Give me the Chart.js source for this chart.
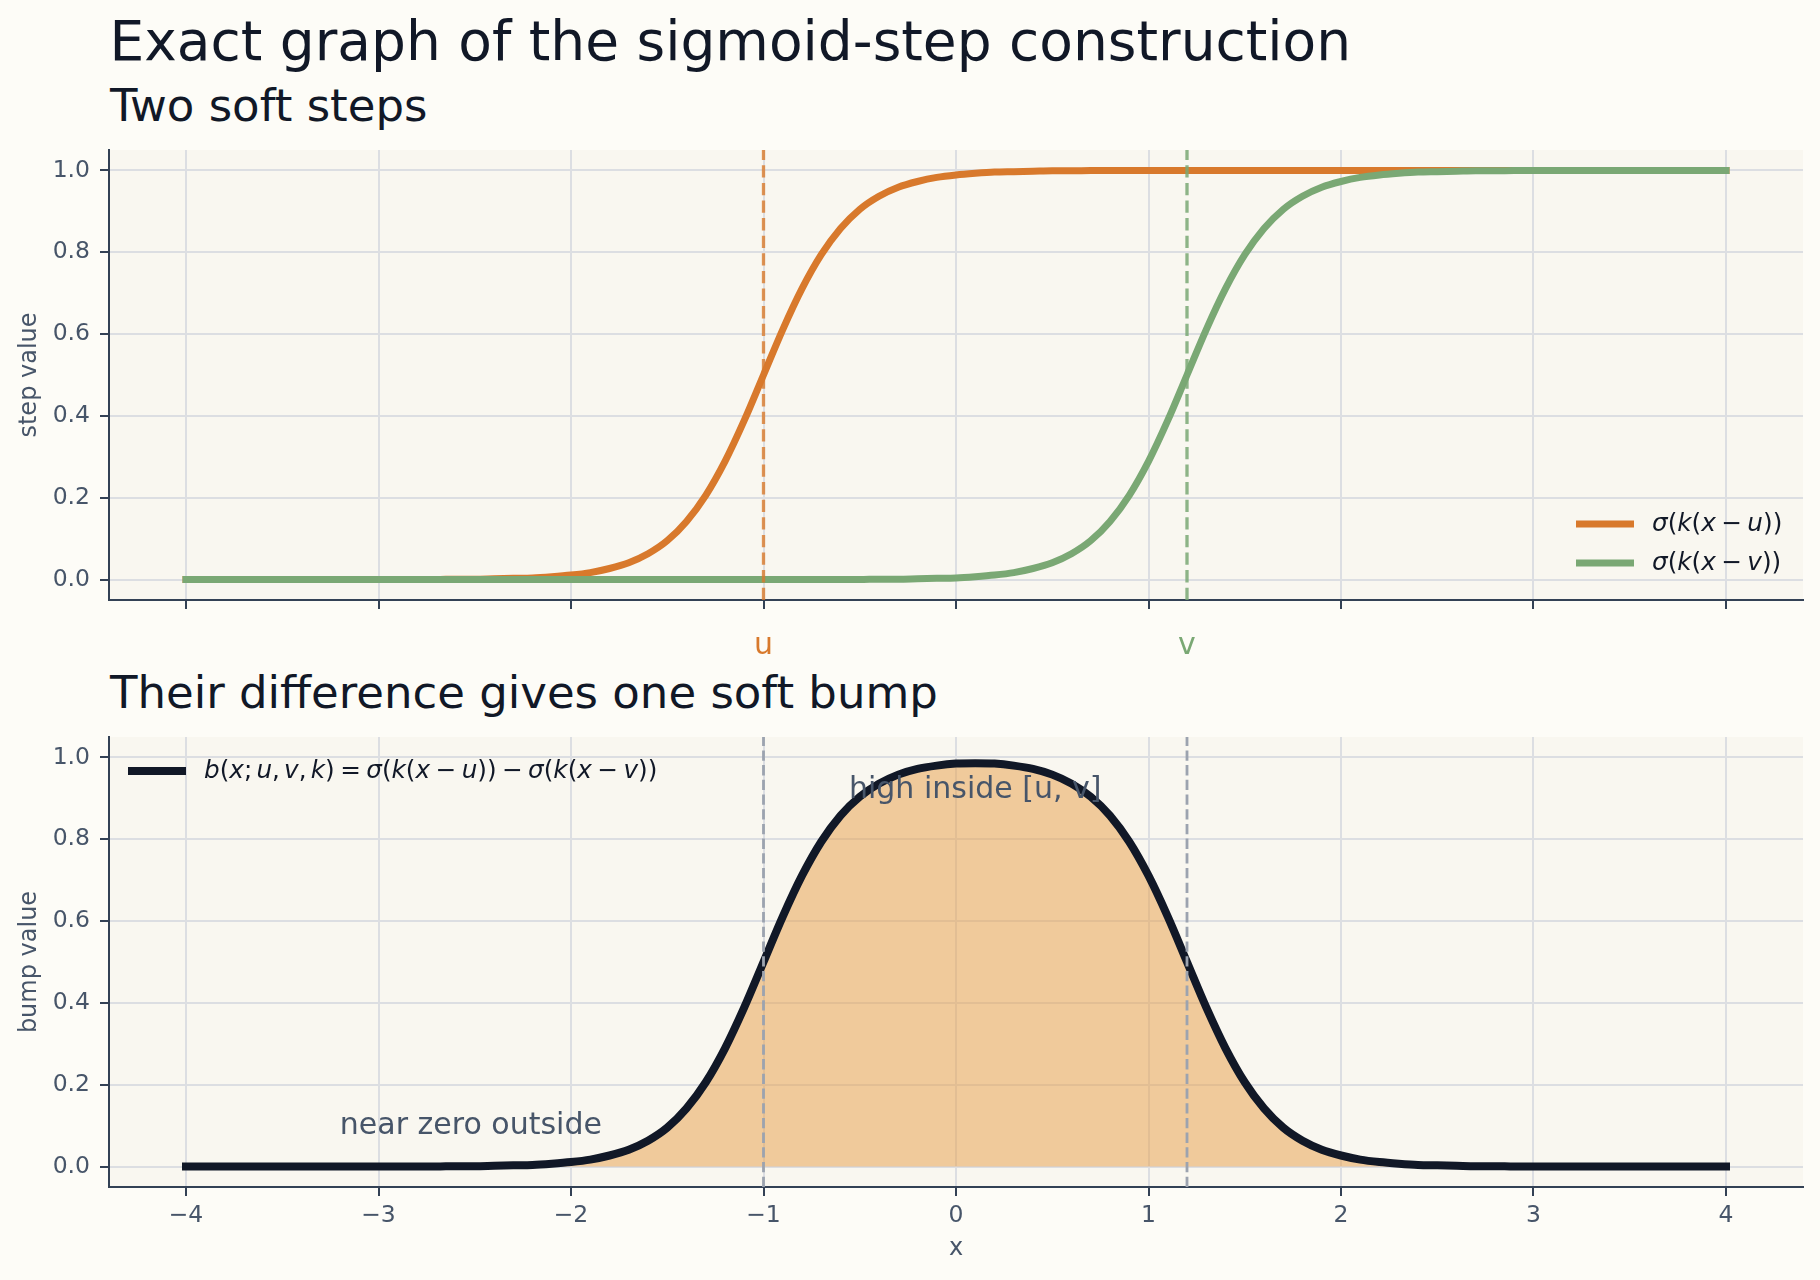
<!DOCTYPE html>
<html>
<head>
<meta charset="utf-8">
<script src="https://cdn.jsdelivr.net/npm/chart.js@4.4.1/dist/chart.umd.min.js"></script>
<style>
  html, body { margin: 0; padding: 0; background: #fdfcf7; }
  body { width: 1820px; height: 1280px; position: relative; overflow: hidden; font-family: "DejaVu Sans", sans-serif; }
  .ttl { position: absolute; margin: 0; color: #111827; line-height: 1; white-space: nowrap; font-weight: normal; }
  #title { left: 109.5px; top: 14px; font-size: 55px; }
  #sub1 { left: 110px; top: 82.5px; font-size: 45px; }
  #sub2 { left: 110px; top: 670px; font-size: 45px; }
  canvas { position: absolute; left: 0; }
  #topChart { top: 140px; }
  #botChart { top: 720px; }
</style>
</head>
<body>
<h1 class="ttl" id="title">Exact graph of the sigmoid-step construction</h1>
<h2 class="ttl" id="sub1">Two soft steps</h2>
<h2 class="ttl" id="sub2">Their difference gives one soft bump</h2>
<canvas id="topChart" width="1820" height="540"></canvas>
<canvas id="botChart" width="1820" height="560"></canvas>

<script>
// x samples and the curves
const xValues = [
  -4.0, -3.9, -3.8, -3.7, -3.6, -3.5, -3.4, -3.3, -3.2, -3.1,
  -3.0, -2.9, -2.8, -2.7, -2.6, -2.5, -2.4, -2.3, -2.2, -2.1,
  -2.0, -1.9, -1.8, -1.7, -1.6, -1.5, -1.4, -1.3, -1.2, -1.1,
  -1.0, -0.9, -0.8, -0.7, -0.6, -0.5, -0.4, -0.3, -0.2, -0.1,
  0.0, 0.1, 0.2, 0.3, 0.4, 0.5, 0.6, 0.7, 0.8, 0.9,
  1.0, 1.1, 1.2, 1.3, 1.4, 1.5, 1.6, 1.7, 1.8, 1.9,
  2.0, 2.1, 2.2, 2.3, 2.4, 2.5, 2.6, 2.7, 2.8, 2.9,
  3.0, 3.1, 3.2, 3.3, 3.4, 3.5, 3.6, 3.7, 3.8, 3.9, 4.0];

const stepU = [
  0, 0, 0, 0, 0, 0, 0, 0, 0, 0,
  0, 0, 0, 0, 0.001, 0.001, 0.002, 0.003, 0.004, 0.007,
  0.011, 0.017, 0.027, 0.041, 0.063, 0.095, 0.142, 0.206, 0.289, 0.389,
  0.500, 0.611, 0.711, 0.794, 0.858, 0.905, 0.937, 0.959, 0.973, 0.983,
  0.989, 0.993, 0.996, 0.997, 0.998, 0.999, 0.999, 1, 1, 1,
  1, 1, 1, 1, 1, 1, 1, 1, 1, 1,
  1, 1, 1, 1, 1, 1, 1, 1, 1, 1,
  1, 1, 1, 1, 1, 1, 1, 1, 1, 1, 1];

const stepV = [
  0, 0, 0, 0, 0, 0, 0, 0, 0, 0,
  0, 0, 0, 0, 0, 0, 0, 0, 0, 0,
  0, 0, 0, 0, 0, 0, 0, 0, 0, 0,
  0, 0, 0, 0, 0, 0, 0.001, 0.001, 0.002, 0.003,
  0.004, 0.007, 0.011, 0.017, 0.027, 0.041, 0.063, 0.095, 0.142, 0.206,
  0.289, 0.389, 0.500, 0.611, 0.711, 0.794, 0.858, 0.905, 0.937, 0.959,
  0.973, 0.983, 0.989, 0.993, 0.996, 0.997, 0.998, 0.999, 0.999, 1,
  1, 1, 1, 1, 1, 1, 1, 1, 1, 1, 1];

const bump = [
  0, 0, 0, 0, 0, 0, 0, 0, 0, 0,
  0, 0, 0, 0, 0.001, 0.001, 0.002, 0.003, 0.004, 0.007,
  0.011, 0.017, 0.027, 0.041, 0.063, 0.095, 0.142, 0.206, 0.289, 0.389,
  0.500, 0.611, 0.711, 0.794, 0.858, 0.904, 0.936, 0.958, 0.972, 0.980,
  0.985, 0.986, 0.985, 0.980, 0.972, 0.958, 0.936, 0.904, 0.858, 0.794,
  0.711, 0.611, 0.500, 0.389, 0.289, 0.206, 0.142, 0.095, 0.063, 0.041,
  0.027, 0.017, 0.011, 0.007, 0.004, 0.003, 0.002, 0.001, 0.001, 0,
  0, 0, 0, 0, 0, 0, 0, 0, 0, 0, 0];

const uPos = -1.0;
const vPos = 1.2;
const markLabels = ["u", "v"];
const topLegend = ["σ(k(x − u))", "σ(k(x − v))"];
const botLegend = "b(x; u, v, k) = σ(k(x − u)) − σ(k(x − v))";
const notes = [
  { text: "high inside [u, v]", x: 0.1, y: 0.9 },
  { text: "near zero outside", x: -2.52, y: 0.08 }
];

const ORANGE = "#d8792c";
const GREEN = "#7aa874";
const INK = "#111827";
const SLATE = "#475569";
const SPINE = "#334155";
const GRID = "#dcdee2";
const FONT = '"DejaVu Sans", sans-serif';

const pts = (ys) => xValues.map((x, i) => ({ x: x, y: ys[i] }));
const vline = (x) => [{ x: x, y: -0.05 }, { x: x, y: 1.05 }];
const minus = (v) => (v < 0 ? "\u2212" + Math.abs(v) : String(v));

// mathtext-ish: letters italic, the rest upright, spaced operators
function drawMath(ctx, str, x, y, size, color) {
  ctx.save();
  ctx.fillStyle = color;
  ctx.textBaseline = "middle";
  ctx.textAlign = "left";
  const it = "italic " + size + "px " + FONT;
  const up = size + "px " + FONT;
  let cx = x;
  for (const ch of str) {
    if (ch === " ") continue;
    const pad = (ch === "=" || ch === "\u2212") ? size * 0.22 : 0;
    ctx.font = /[a-zσ]/.test(ch) ? it : up;
    cx += pad;
    ctx.fillText(ch, cx, y);
    cx += ctx.measureText(ch).width + pad;
    if (ch === "," || ch === ";") cx += size * 0.17;
  }
  ctx.restore();
}

const panelBg = {
  id: "panelBg",
  beforeDraw(chart) {
    const { ctx, chartArea: a } = chart;
    ctx.save();
    ctx.fillStyle = "#f9f7f0";
    ctx.fillRect(a.left, a.top, a.right - a.left, a.bottom - a.top);
    ctx.restore();
  }
};

const overlay = {
  id: "overlay",
  afterDraw(chart, args, opts) {
    const { ctx, chartArea: a } = chart;
    const xs = chart.scales.x, ys = chart.scales.y;
    if (opts.marks) {
      ctx.save();
      ctx.font = "30px " + FONT;
      ctx.textAlign = "center";
      ctx.textBaseline = "alphabetic";
      opts.marks.forEach((m) => {
        ctx.fillStyle = m.color;
        ctx.fillText(m.text, xs.getPixelForValue(m.x), a.bottom + 54);
      });
      ctx.restore();
    }
    if (opts.notes) {
      ctx.save();
      ctx.font = "30px " + FONT;
      ctx.fillStyle = SLATE;
      ctx.textAlign = "center";
      ctx.textBaseline = "alphabetic";
      opts.notes.forEach((n) => ctx.fillText(n.text, xs.getPixelForValue(n.x), ys.getPixelForValue(n.y)));
      ctx.restore();
    }
    if (opts.legend) {
      opts.legend.forEach((l) => {
        const x0 = l.anchor === "right" ? a.right + l.dx : a.left + l.dx;
        const y0 = l.anchorY === "bottom" ? a.bottom + l.dy : a.top + l.dy;
        ctx.save();
        ctx.strokeStyle = l.color;
        ctx.lineWidth = l.width;
        ctx.beginPath();
        ctx.moveTo(x0, y0);
        ctx.lineTo(x0 + 58, y0);
        ctx.stroke();
        ctx.restore();
        drawMath(ctx, l.text, x0 + 76, y0 + 1, 24.7, INK);
      });
    }
  }
};

function scales(yTitle, showX) {
  return {
    x: {
      type: "linear", min: -4.4, max: 4.4,
      afterFit: (s) => { s.height = showX ? 93 : 80; s.paddingLeft = 0; s.paddingRight = 0; },
      ticks: { display: showX, stepSize: 1, includeBounds: false, autoSkip: false, maxRotation: 0,
        padding: 6, color: SLATE, font: { family: FONT, size: 23.5 }, callback: minus },
      grid: { color: GRID, lineWidth: 2, tickLength: 9, tickWidth: 2, tickColor: SPINE },
      border: { color: SPINE, width: 2 },
      title: { display: showX, text: "x", color: SLATE, font: { family: FONT, size: 24 }, padding: { top: 0, bottom: 16.6 } }
    },
    y: {
      min: -0.05, max: 1.05,
      afterFit: (s) => { s.width = 109; s.paddingTop = 0; s.paddingBottom = 0; },
      ticks: { stepSize: 0.2, includeBounds: false, autoSkip: false, padding: 10, color: SLATE,
        font: { family: FONT, size: 23.5 }, callback: (v) => v.toFixed(1) },
      grid: { color: GRID, lineWidth: 2, tickLength: 9, tickWidth: 2, tickColor: SPINE },
      border: { color: SPINE, width: 2 },
      title: { display: true, text: yTitle, color: SLATE, font: { family: FONT, size: 24 }, padding: { top: 15, bottom: 0 } }
    }
  };
}

const lineBase = { pointRadius: 0, pointHoverRadius: 0, cubicInterpolationMode: "monotone", borderCapStyle: "square", borderJoinStyle: "round", fill: false };
const dashBase = { pointRadius: 0, pointHoverRadius: 0, borderCapStyle: "butt", fill: false, tension: 0 };

new Chart(document.getElementById("topChart"), {
  type: "line",
  data: {
    datasets: [
      { ...dashBase, label: "u", data: vline(uPos), borderColor: "rgba(216,121,44,0.8)", borderWidth: 3.3, borderDash: [12.3, 5.3], order: 0 },
      { ...dashBase, label: "v", data: vline(vPos), borderColor: "rgba(122,168,116,0.85)", borderWidth: 3.3, borderDash: [12.3, 5.3], order: 0 },
      { ...lineBase, label: topLegend[0], data: pts(stepU), borderColor: ORANGE, borderWidth: 7, order: 2 },
      { ...lineBase, label: topLegend[1], data: pts(stepV), borderColor: GREEN, borderWidth: 7, order: 1 }
    ]
  },
  options: {
    responsive: false, animation: false, devicePixelRatio: 1,
    layout: { padding: { left: 0, top: 10, right: 17, bottom: 0 } },
    plugins: {
      legend: { display: false }, tooltip: { enabled: false },
      overlay: {
        marks: [{ text: markLabels[0], x: uPos, color: ORANGE }, { text: markLabels[1], x: vPos, color: GREEN }],
        legend: [
          { text: topLegend[0], color: ORANGE, width: 7, anchor: "right", dx: -227, anchorY: "bottom", dy: -76 },
          { text: topLegend[1], color: GREEN, width: 7, anchor: "right", dx: -227, anchorY: "bottom", dy: -37 }
        ]
      }
    },
    scales: scales("step value", false)
  },
  plugins: [panelBg, overlay]
});

new Chart(document.getElementById("botChart"), {
  type: "line",
  data: {
    datasets: [
      { ...dashBase, label: "u", data: vline(uPos), borderColor: "#9ca3af", borderWidth: 2.8, borderDash: [10.3, 4.4], order: 0 },
      { ...dashBase, label: "v", data: vline(vPos), borderColor: "#9ca3af", borderWidth: 2.8, borderDash: [10.3, 4.4], order: 0 },
      { ...lineBase, label: botLegend, data: pts(bump), borderColor: INK, borderWidth: 8, order: 1,
        fill: "origin", backgroundColor: "rgba(232,158,70,0.5)" }
    ]
  },
  options: {
    responsive: false, animation: false, devicePixelRatio: 1,
    layout: { padding: { left: 0, top: 17, right: 17, bottom: 0 } },
    plugins: {
      legend: { display: false }, tooltip: { enabled: false },
      filler: { propagate: false },
      overlay: {
        notes: notes,
        legend: [{ text: botLegend, color: INK, width: 8, anchor: "left", dx: 19, anchorY: "top", dy: 34 }]
      }
    },
    scales: scales("bump value", true)
  },
  plugins: [panelBg, overlay]
});
</script>
</body>
</html>
